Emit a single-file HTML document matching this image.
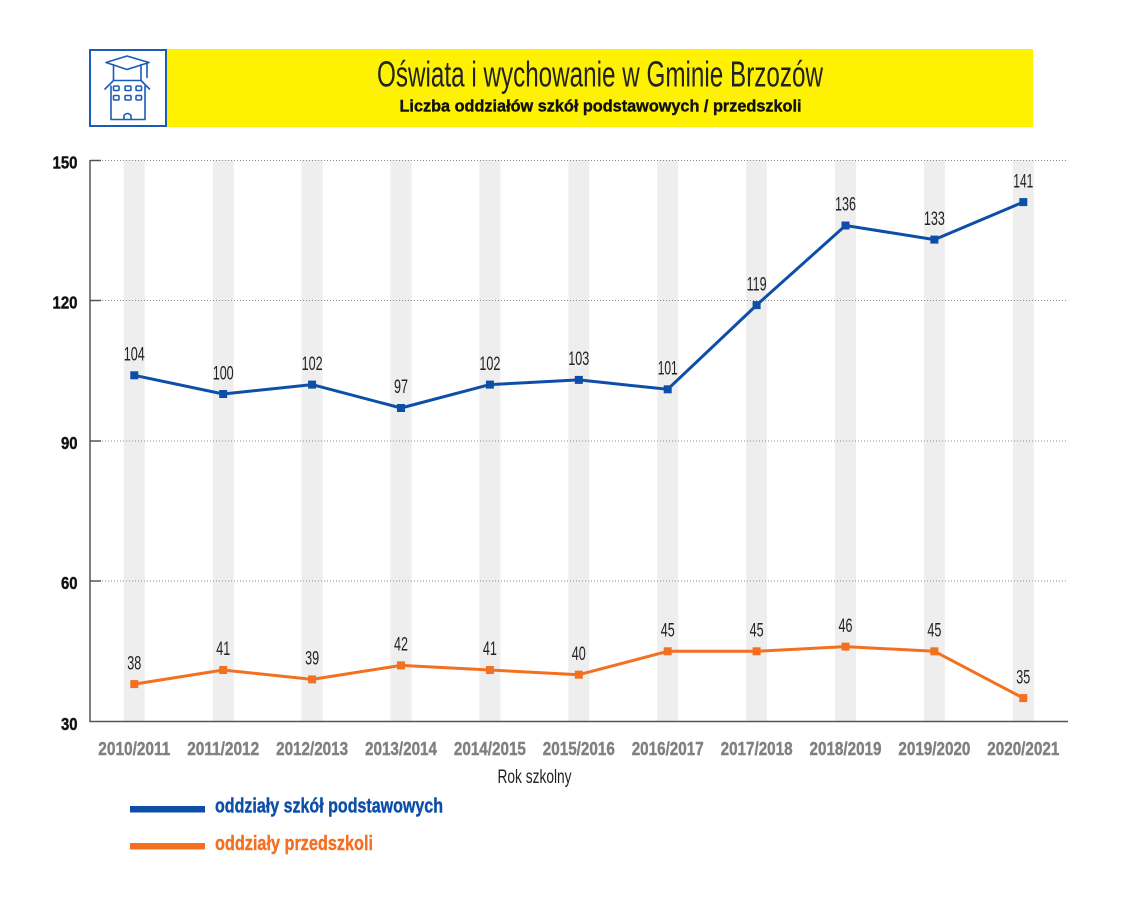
<!DOCTYPE html>
<html>
<head>
<meta charset="utf-8">
<style>
  html,body{margin:0;padding:0;background:#fff;}
  svg{display:block;}
  text{font-family:"Liberation Sans Narrow","Liberation Sans",sans-serif;}
  text.b{font-family:"Liberation Sans",sans-serif;font-weight:bold;}
</style>
</head>
<body>
<svg width="1134" height="906" viewBox="0 0 1134 906" xmlns="http://www.w3.org/2000/svg">
  <!-- Header -->
  <rect x="166" y="49" width="867" height="78" fill="#fff200"/>
  <rect x="90" y="50" width="76" height="76" fill="#fff" stroke="#1a5cb8" stroke-width="2"/>
  <!-- icon -->
  <g fill="none" stroke="#1a5cb8" stroke-width="1.6" stroke-linejoin="round" stroke-linecap="round">
    <polygon points="106,62.5 127,56 149,62.5 127,69.5"/>
    <path d="M113.5,64.5 V80.5 H141 V64.5"/>
    <path d="M147,63 V77.5"/>
    <path d="M113.5,80.5 L105,89 M141,80.5 L149.5,89"/>
    <path d="M111,86 V119.5 H145 V86"/>
    <rect x="113.5" y="86" width="5.5" height="4.5" rx="1"/>
    <rect x="125" y="86" width="6" height="4.5" rx="1"/>
    <rect x="136" y="86" width="5.5" height="4.5" rx="1"/>
    <rect x="113.5" y="95.5" width="5.5" height="4.5" rx="1"/>
    <rect x="125" y="95.5" width="6" height="4.5" rx="1"/>
    <rect x="136" y="95.5" width="5.5" height="4.5" rx="1"/>
    <path d="M124,119.5 V115.5 Q127.5,111.5 131,115.5 V119.5"/>
  </g>
  <text x="600" y="86.5" font-size="36" fill="#222" text-anchor="middle" textLength="446" lengthAdjust="spacingAndGlyphs">Oświata i wychowanie w Gminie Brzozów</text>
  <text class="b" x="600.5" y="111.5" font-size="17" fill="#111" stroke="#111" stroke-width="0.4" text-anchor="middle" textLength="402" lengthAdjust="spacingAndGlyphs">Liczba oddziałów szkół podstawowych / przedszkoli</text>

  <!-- gray bands -->
  <g fill="#eeeeee">
    <rect x="123.8" y="160" width="21" height="561"/>
    <rect x="212.7" y="160" width="21" height="561"/>
    <rect x="301.6" y="160" width="21" height="561"/>
    <rect x="390.5" y="160" width="21" height="561"/>
    <rect x="479.4" y="160" width="21" height="561"/>
    <rect x="568.3" y="160" width="21" height="561"/>
    <rect x="657.2" y="160" width="21" height="561"/>
    <rect x="746.1" y="160" width="21" height="561"/>
    <rect x="835.0" y="160" width="21" height="561"/>
    <rect x="923.9" y="160" width="21" height="561"/>
    <rect x="1012.8" y="160" width="21" height="561"/>
  </g>

  <!-- gridlines -->
  <g stroke="#8a8a8a" stroke-width="1" stroke-dasharray="1 2">
    <line x1="102" y1="160.5" x2="1068" y2="160.5"/>
    <line x1="102" y1="300.5" x2="1068" y2="300.5"/>
    <line x1="102" y1="441" x2="1068" y2="441"/>
    <line x1="102" y1="581" x2="1068" y2="581"/>
  </g>
  <!-- axes -->
  <g stroke="#555" stroke-width="1.5">
    <line x1="90" y1="160" x2="90" y2="722"/>
    <line x1="89.5" y1="721.5" x2="1068" y2="721.5"/>
    <line x1="90" y1="160.5" x2="101" y2="160.5"/>
    <line x1="90" y1="300.5" x2="101" y2="300.5"/>
    <line x1="90" y1="441" x2="101" y2="441"/>
    <line x1="90" y1="581" x2="101" y2="581"/>
  </g>

  <!-- y labels -->
  <g font-size="17.5" fill="#111" stroke="#111" stroke-width="0.4" text-anchor="end">
    <text class="b" x="77.5" y="168.5" textLength="25" lengthAdjust="spacingAndGlyphs">150</text>
    <text class="b" x="77.5" y="308.7" textLength="25" lengthAdjust="spacingAndGlyphs">120</text>
    <text class="b" x="77.5" y="449" textLength="16.5" lengthAdjust="spacingAndGlyphs">90</text>
    <text class="b" x="77.5" y="589.2" textLength="16.5" lengthAdjust="spacingAndGlyphs">60</text>
    <text class="b" x="77.5" y="730" textLength="16.5" lengthAdjust="spacingAndGlyphs">30</text>
  </g>

  <!-- x labels -->
  <g font-size="18" fill="#808080" stroke="#808080" stroke-width="0.4" text-anchor="middle">
    <text class="b" x="134.3" y="755" textLength="72" lengthAdjust="spacingAndGlyphs">2010/2011</text>
    <text class="b" x="223.2" y="755" textLength="72" lengthAdjust="spacingAndGlyphs">2011/2012</text>
    <text class="b" x="312.1" y="755" textLength="72" lengthAdjust="spacingAndGlyphs">2012/2013</text>
    <text class="b" x="401.0" y="755" textLength="72" lengthAdjust="spacingAndGlyphs">2013/2014</text>
    <text class="b" x="489.9" y="755" textLength="72" lengthAdjust="spacingAndGlyphs">2014/2015</text>
    <text class="b" x="578.8" y="755" textLength="72" lengthAdjust="spacingAndGlyphs">2015/2016</text>
    <text class="b" x="667.7" y="755" textLength="72" lengthAdjust="spacingAndGlyphs">2016/2017</text>
    <text class="b" x="756.6" y="755" textLength="72" lengthAdjust="spacingAndGlyphs">2017/2018</text>
    <text class="b" x="845.5" y="755" textLength="72" lengthAdjust="spacingAndGlyphs">2018/2019</text>
    <text class="b" x="934.4" y="755" textLength="72" lengthAdjust="spacingAndGlyphs">2019/2020</text>
    <text class="b" x="1023.3" y="755" textLength="72" lengthAdjust="spacingAndGlyphs">2020/2021</text>
  </g>
  <text x="534.5" y="783" font-size="19" fill="#222" text-anchor="middle" textLength="74" lengthAdjust="spacingAndGlyphs">Rok szkolny</text>

  <!-- blue series -->
  <polyline fill="none" stroke="#0d4fa8" stroke-width="3" stroke-linejoin="round"
    points="134.3,375.3 223.2,394.0 312.1,384.6 401.0,408.0 489.9,384.6 578.8,379.9 667.7,389.3 756.6,305.1 845.5,225.5 934.4,239.6 1023.3,202.1"/>
  <g fill="#0d4fa8">
    <rect x="130.3" y="371.3" width="8" height="8"/>
    <rect x="219.2" y="390.0" width="8" height="8"/>
    <rect x="308.1" y="380.6" width="8" height="8"/>
    <rect x="397.0" y="404.0" width="8" height="8"/>
    <rect x="485.9" y="380.6" width="8" height="8"/>
    <rect x="574.8" y="375.9" width="8" height="8"/>
    <rect x="663.7" y="385.3" width="8" height="8"/>
    <rect x="752.6" y="301.1" width="8" height="8"/>
    <rect x="841.5" y="221.5" width="8" height="8"/>
    <rect x="930.4" y="235.6" width="8" height="8"/>
    <rect x="1019.3" y="198.1" width="8" height="8"/>
  </g>

  <!-- orange series -->
  <polyline fill="none" stroke="#f37021" stroke-width="3" stroke-linejoin="round"
    points="134.3,684.1 223.2,670.0 312.1,679.4 401.0,665.4 489.9,670.0 578.8,674.7 667.7,651.3 756.6,651.3 845.5,646.6 934.4,651.3 1023.3,698.1"/>
  <g fill="#f37021">
    <rect x="130.3" y="680.1" width="8" height="8"/>
    <rect x="219.2" y="666.0" width="8" height="8"/>
    <rect x="308.1" y="675.4" width="8" height="8"/>
    <rect x="397.0" y="661.4" width="8" height="8"/>
    <rect x="485.9" y="666.0" width="8" height="8"/>
    <rect x="574.8" y="670.7" width="8" height="8"/>
    <rect x="663.7" y="647.3" width="8" height="8"/>
    <rect x="752.6" y="647.3" width="8" height="8"/>
    <rect x="841.5" y="642.6" width="8" height="8"/>
    <rect x="930.4" y="647.3" width="8" height="8"/>
    <rect x="1019.3" y="694.1" width="8" height="8"/>
  </g>

  <!-- data labels -->
  <g font-size="19.5" fill="#222" text-anchor="middle">
    <text x="134.3" y="360.5" textLength="21" lengthAdjust="spacingAndGlyphs">104</text>
    <text x="223.2" y="379.3" textLength="21" lengthAdjust="spacingAndGlyphs">100</text>
    <text x="312.1" y="369.8" textLength="21" lengthAdjust="spacingAndGlyphs">102</text>
    <text x="401.0" y="393.2" textLength="14" lengthAdjust="spacingAndGlyphs">97</text>
    <text x="489.9" y="369.8" textLength="21" lengthAdjust="spacingAndGlyphs">102</text>
    <text x="578.8" y="365.1" textLength="21" lengthAdjust="spacingAndGlyphs">103</text>
    <text x="667.7" y="374.5" textLength="20" lengthAdjust="spacingAndGlyphs">101</text>
    <text x="756.6" y="290.3" textLength="20" lengthAdjust="spacingAndGlyphs">119</text>
    <text x="845.5" y="210.7" textLength="21" lengthAdjust="spacingAndGlyphs">136</text>
    <text x="934.4" y="224.8" textLength="21" lengthAdjust="spacingAndGlyphs">133</text>
    <text x="1023.3" y="187.3" textLength="20" lengthAdjust="spacingAndGlyphs">141</text>

    <text x="134.3" y="669.3" textLength="14" lengthAdjust="spacingAndGlyphs">38</text>
    <text x="223.2" y="655.2" textLength="14" lengthAdjust="spacingAndGlyphs">41</text>
    <text x="312.1" y="664.6" textLength="14" lengthAdjust="spacingAndGlyphs">39</text>
    <text x="401.0" y="650.6" textLength="14" lengthAdjust="spacingAndGlyphs">42</text>
    <text x="489.9" y="655.2" textLength="14" lengthAdjust="spacingAndGlyphs">41</text>
    <text x="578.8" y="659.9" textLength="14" lengthAdjust="spacingAndGlyphs">40</text>
    <text x="667.7" y="636.5" textLength="14" lengthAdjust="spacingAndGlyphs">45</text>
    <text x="756.6" y="636.5" textLength="14" lengthAdjust="spacingAndGlyphs">45</text>
    <text x="845.5" y="631.8" textLength="14" lengthAdjust="spacingAndGlyphs">46</text>
    <text x="934.4" y="636.5" textLength="14" lengthAdjust="spacingAndGlyphs">45</text>
    <text x="1023.3" y="683.3" textLength="14" lengthAdjust="spacingAndGlyphs">35</text>
  </g>

  <!-- legend -->
  <rect x="130" y="806" width="75" height="6.5" fill="#0d4fa8"/>
  <text class="b" x="215" y="812.7" font-size="20" fill="#0d4fa8" stroke="#0d4fa8" stroke-width="0.4" textLength="228" lengthAdjust="spacingAndGlyphs">oddziały szkół podstawowych</text>
  <rect x="130" y="843" width="75" height="6.5" fill="#f37021"/>
  <text class="b" x="215" y="850" font-size="20" fill="#f37021" stroke="#f37021" stroke-width="0.4" textLength="158" lengthAdjust="spacingAndGlyphs">oddziały przedszkoli</text>
</svg>
</body>
</html>
